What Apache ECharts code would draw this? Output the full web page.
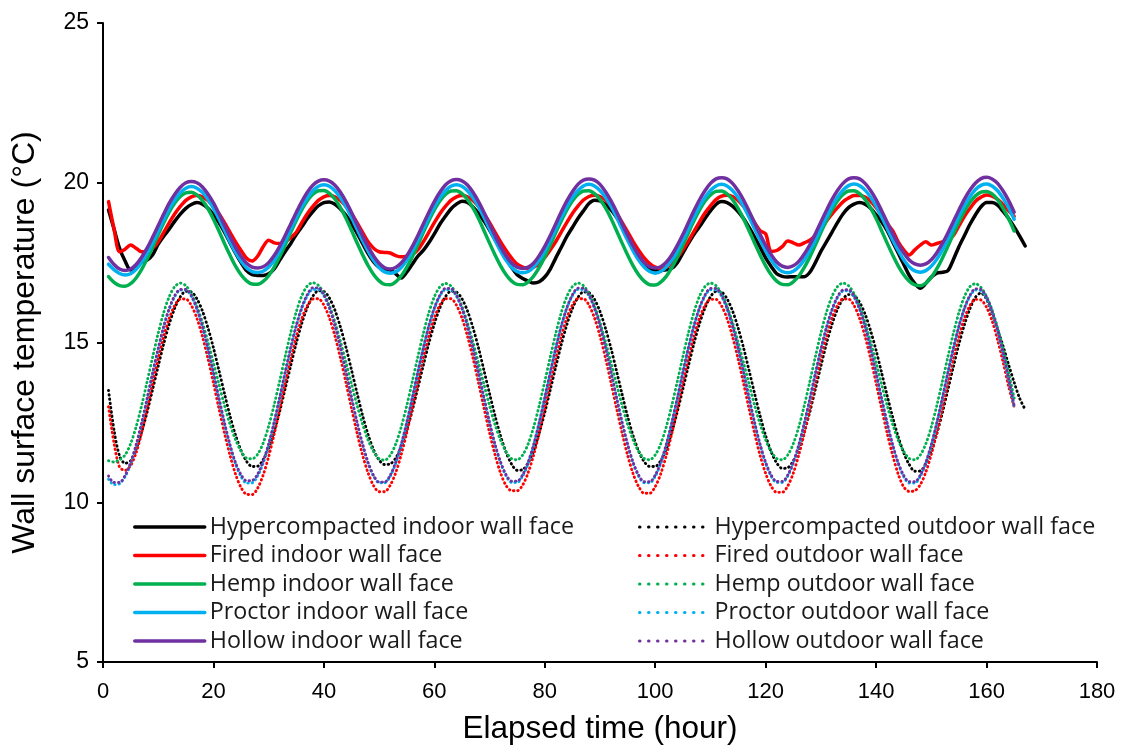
<!DOCTYPE html>
<html>
<head>
<meta charset="utf-8">
<script src="https://cdn.jsdelivr.net/npm/echarts@6/dist/echarts.min.js"></script>
<style>
  html, body { margin: 0; padding: 0; background: #ffffff; }
  #chart { width: 1128px; height: 746px; }
</style>
</head>
<body>
<div id="chart"></div>
<script>
// Sampling times (hour) shared by every series
const hours = [
  1,2,3,4,5,6,7,8,9,10,11,12,13,14,15,16,17,18,19,20,21,22,23,
  24,25,26,27,28,29,30,31,32,33,34,35,36,37,38,39,40,41,42,43,44,45,46,47,
  48,49,50,51,52,53,54,55,56,57,58,59,60,61,62,63,64,65,66,67,68,69,70,71,
  72,73,74,75,76,77,78,79,80,81,82,83,84,85,86,87,88,89,90,91,92,93,94,95,
  96,97,98,99,100,101,102,103,104,105,106,107,108,109,110,111,112,113,114,115,116,117,118,119,
  120,121,122,123,124,125,126,127,128,129,130,131,132,133,134,135,136,137,138,139,140,141,142,143,
  144,145,146,147,148,149,150,151,152,153,154,155,156,157,158,159,160,161,162,163,164,165,166,167
];

// Indoor wall face temperatures (°C), one value per hour
const hyperIndoor = [
  19.15,18.55,17.95,17.55,17.27,17.35,17.52,17.58,17.75,18.08,18.33,18.55,18.80,19.02,19.20,19.32,19.38,19.33,19.20,19.00,18.75,18.45,18.12,
  17.80,17.50,17.25,17.12,17.10,17.10,17.15,17.30,17.58,17.85,18.10,18.38,18.62,18.88,19.10,19.28,19.38,19.40,19.33,19.18,18.98,18.72,18.42,18.10,
  17.78,17.52,17.35,17.28,17.27,17.15,17.02,17.20,17.45,17.70,17.88,18.12,18.40,18.70,18.95,19.18,19.33,19.42,19.38,19.24,19.04,18.80,18.52,18.22,
  17.92,17.62,17.35,17.12,17.00,16.92,16.86,16.90,17.05,17.30,17.65,17.98,18.32,18.60,18.88,19.12,19.35,19.45,19.43,19.32,19.15,18.92,18.65,18.35,
  18.02,17.70,17.45,17.30,17.27,17.26,17.28,17.32,17.50,17.80,18.10,18.38,18.62,18.88,19.12,19.32,19.41,19.38,19.27,19.10,18.88,18.60,18.30,17.98,
  17.65,17.38,17.15,17.07,17.05,17.06,17.06,17.06,17.20,17.50,17.85,18.15,18.45,18.75,19.02,19.22,19.33,19.38,19.33,19.20,19.00,18.78,18.50,18.15,
  17.80,17.45,17.10,16.85,16.70,16.85,17.05,17.17,17.20,17.25,17.60,18.00,18.35,18.70,19.00,19.25,19.38,19.38,19.30,19.10,18.88,18.62,18.33,18.02
];
const firedIndoor = [
  19.41,18.55,17.84,17.92,18.05,17.95,17.84,17.86,17.95,18.15,18.45,18.75,19.03,19.26,19.45,19.56,19.60,19.56,19.45,19.26,19.03,18.75,18.45,
  18.15,17.88,17.64,17.55,17.70,18.00,18.20,18.12,18.10,18.15,18.28,18.45,18.75,19.03,19.26,19.45,19.56,19.60,19.56,19.45,19.26,19.03,18.75,18.45,
  18.15,17.95,17.84,17.82,17.80,17.72,17.68,17.70,17.75,17.90,18.15,18.45,18.75,19.03,19.26,19.45,19.56,19.60,19.56,19.45,19.26,19.03,18.75,18.45,
  18.15,17.88,17.64,17.45,17.36,17.32,17.36,17.47,17.66,17.90,18.16,18.46,18.76,19.04,19.27,19.46,19.57,19.61,19.57,19.46,19.27,19.04,18.76,18.46,
  18.16,17.89,17.65,17.47,17.36,17.32,17.36,17.47,17.66,17.90,18.17,18.47,18.77,19.05,19.28,19.47,19.58,19.61,19.57,19.45,19.26,19.03,18.75,18.50,
  18.40,17.85,17.88,18.00,18.18,18.12,18.05,18.12,18.20,18.35,18.55,18.80,19.02,19.22,19.40,19.52,19.60,19.60,19.55,19.42,19.22,18.98,18.72,18.50,
  18.15,17.90,17.74,17.90,18.05,18.15,18.05,18.10,18.15,18.20,18.35,18.65,18.95,19.20,19.42,19.55,19.62,19.58,19.48,19.32,19.12,18.95
];
const hempIndoor = [
  17.06,16.88,16.78,16.76,16.84,17.02,17.29,17.62,17.99,18.38,18.75,19.09,19.37,19.57,19.68,19.70,19.62,19.45,19.19,18.86,18.49,18.10,17.73,
  17.39,17.12,16.93,16.83,16.82,16.91,17.09,17.36,17.69,18.06,18.45,18.82,19.16,19.44,19.64,19.75,19.76,19.67,19.49,19.22,18.89,18.51,18.12,17.75,
  17.41,17.13,16.93,16.82,16.81,16.90,17.08,17.35,17.68,18.05,18.44,18.81,19.15,19.43,19.63,19.74,19.75,19.66,19.48,19.21,18.88,18.50,18.11,17.74,
  17.40,17.12,16.92,16.82,16.81,16.90,17.08,17.35,17.68,18.05,18.44,18.81,19.15,19.43,19.63,19.74,19.75,19.66,19.48,19.21,18.88,18.50,18.11,17.74,
  17.40,17.12,16.92,16.81,16.80,16.89,17.07,17.34,17.67,18.04,18.43,18.80,19.14,19.42,19.62,19.73,19.74,19.65,19.47,19.20,18.87,18.50,18.11,17.74,
  17.40,17.12,16.92,16.82,16.81,16.90,17.08,17.35,17.68,18.05,18.44,18.81,19.15,19.43,19.63,19.74,19.75,19.66,19.48,19.21,18.88,18.50,18.11,17.74,
  17.40,17.12,16.92,16.80,16.78,16.86,17.04,17.31,17.64,18.01,18.40,18.77,19.11,19.39,19.59,19.71,19.73,19.65,19.47,19.20,18.87,18.49
];
const proctorIndoor = [
  17.45,17.28,17.16,17.11,17.15,17.29,17.51,17.80,18.13,18.49,18.85,19.19,19.47,19.69,19.83,19.88,19.83,19.70,19.48,19.20,18.87,18.51,18.15,
  17.82,17.54,17.33,17.22,17.19,17.23,17.36,17.57,17.86,18.19,18.55,18.91,19.25,19.53,19.75,19.89,19.94,19.89,19.75,19.53,19.25,18.91,18.55,18.19,
  17.86,17.57,17.35,17.21,17.17,17.21,17.35,17.57,17.86,18.19,18.55,18.91,19.25,19.53,19.75,19.89,19.94,19.89,19.75,19.53,19.25,18.91,18.55,18.19,
  17.86,17.57,17.35,17.22,17.18,17.22,17.36,17.58,17.87,18.20,18.56,18.92,19.26,19.54,19.76,19.90,19.95,19.90,19.76,19.54,19.26,18.92,18.56,18.20,
  17.87,17.58,17.36,17.22,17.17,17.22,17.36,17.58,17.87,18.20,18.56,18.92,19.26,19.54,19.76,19.90,19.95,19.90,19.76,19.54,19.26,18.92,18.56,18.20,
  17.87,17.58,17.36,17.22,17.18,17.23,17.37,17.59,17.88,18.21,18.57,18.93,19.27,19.55,19.77,19.91,19.96,19.91,19.77,19.55,19.27,18.93,18.57,18.21,
  17.88,17.59,17.37,17.24,17.20,17.25,17.39,17.61,17.90,18.23,18.59,18.95,19.29,19.57,19.79,19.92,19.96,19.90,19.75,19.51,19.22,18.86
];
const hollowIndoor = [
  17.66,17.44,17.30,17.25,17.30,17.44,17.67,17.96,18.30,18.66,19.02,19.36,19.64,19.86,20.00,20.04,20.00,19.87,19.65,19.37,19.03,18.67,18.31,
  17.98,17.70,17.48,17.36,17.33,17.37,17.50,17.72,18.01,18.35,18.71,19.07,19.41,19.70,19.92,20.05,20.09,20.05,19.92,19.70,19.41,19.07,18.70,18.34,
  18.00,17.71,17.48,17.34,17.30,17.35,17.49,17.71,18.00,18.34,18.71,19.07,19.41,19.70,19.93,20.06,20.10,20.06,19.93,19.70,19.41,19.07,18.70,18.34,
  18.00,17.71,17.49,17.36,17.32,17.36,17.49,17.72,18.01,18.35,18.72,19.09,19.43,19.72,19.95,20.08,20.12,20.08,19.95,19.72,19.43,19.09,18.72,18.36,
  18.02,17.73,17.50,17.37,17.33,17.37,17.51,17.74,18.04,18.38,18.75,19.12,19.46,19.75,19.98,20.12,20.16,20.12,19.98,19.75,19.46,19.11,18.74,18.38,
  18.04,17.75,17.52,17.39,17.35,17.40,17.54,17.77,18.06,18.40,18.77,19.13,19.47,19.76,19.98,20.12,20.16,20.12,19.98,19.76,19.47,19.12,18.76,18.41,
  18.08,17.80,17.58,17.46,17.42,17.46,17.59,17.81,18.10,18.43,18.79,19.15,19.49,19.77,19.99,20.13,20.17,20.12,19.98,19.74,19.44,19.08
];

// Outdoor wall face temperatures (°C), one value per hour
const hyperOutdoor = [
  13.50,12.25,11.45,11.22,11.30,11.67,12.20,12.83,13.54,14.26,14.96,15.58,16.08,16.43,16.60,16.58,16.37,15.99,15.46,14.83,14.12,13.40,12.70,
  12.10,11.62,11.28,11.12,11.13,11.33,11.70,12.22,12.85,13.56,14.28,14.98,15.60,16.10,16.45,16.62,16.60,16.39,16.01,15.48,14.85,14.14,13.42,12.72,
  12.12,11.64,11.32,11.18,11.20,11.38,11.74,12.25,12.87,13.57,14.28,14.97,15.58,16.08,16.43,16.60,16.58,16.37,15.99,15.46,14.83,14.12,13.40,12.70,
  12.07,11.56,11.19,11.00,11.02,11.24,11.63,12.17,12.81,13.52,14.24,14.94,15.56,16.06,16.41,16.58,16.56,16.35,15.97,15.44,14.81,14.10,13.38,12.68,
  12.08,11.60,11.27,11.12,11.12,11.30,11.67,12.20,12.83,13.54,14.26,14.96,15.58,16.08,16.43,16.60,16.58,16.37,15.99,15.46,14.83,14.12,13.40,12.70,
  12.08,11.58,11.23,11.06,11.08,11.29,11.67,12.20,12.83,13.54,14.26,14.96,15.56,16.04,16.36,16.50,16.47,16.26,15.89,15.37,14.75,14.05,13.34,12.66,
  12.05,11.55,11.18,10.97,10.98,11.20,11.60,12.15,12.80,13.52,14.25,14.95,15.56,16.06,16.42,16.55,16.35,15.90,15.40,14.88,14.30,13.75,13.25,12.90
];
const firedOutdoor = [
  12.99,11.85,11.10,11.00,11.15,11.55,12.18,12.93,13.73,14.50,15.19,15.76,16.16,16.36,16.36,16.16,15.76,15.19,14.50,13.73,12.93,12.16,11.47,
  10.88,10.46,10.25,10.24,10.44,10.85,11.43,12.13,12.91,13.72,14.49,15.18,15.75,16.15,16.36,16.37,16.17,15.77,15.20,14.51,13.74,12.94,12.17,11.48,
  10.92,10.52,10.33,10.33,10.53,10.92,11.49,12.17,12.94,13.74,14.51,15.20,15.77,16.17,16.37,16.37,16.17,15.77,15.20,14.51,13.74,12.94,12.17,11.48,
  10.91,10.52,10.36,10.36,10.54,10.93,11.49,12.17,12.94,13.74,14.51,15.20,15.77,16.17,16.37,16.37,16.17,15.77,15.20,14.51,13.74,12.94,12.17,11.47,
  10.89,10.49,10.28,10.28,10.49,10.89,11.46,12.15,12.92,13.72,14.49,15.18,15.75,16.15,16.35,16.35,16.15,15.75,15.18,14.49,13.72,12.92,12.15,11.46,
  10.90,10.50,10.31,10.31,10.51,10.91,11.48,12.16,12.93,13.73,14.50,15.19,15.76,16.16,16.36,16.36,16.16,15.76,15.19,14.50,13.73,12.93,12.16,11.47,
  10.88,10.48,10.34,10.36,10.55,10.94,11.50,12.18,12.94,13.74,14.50,15.19,15.76,16.16,16.35,16.33,16.10,15.68,15.08,14.38,13.62,12.98
];
const hempOutdoor = [
  11.30,11.26,11.33,11.48,11.83,12.36,13.03,13.78,14.55,15.29,15.94,16.44,16.75,16.86,16.78,16.53,16.14,15.63,15.02,14.36,13.69,13.03,12.44,
  11.96,11.60,11.38,11.36,11.50,11.85,12.38,13.05,13.80,14.57,15.31,15.96,16.46,16.77,16.87,16.79,16.54,16.15,15.64,15.03,14.37,13.70,13.04,12.45,
  11.95,11.59,11.36,11.32,11.47,11.82,12.35,13.02,13.77,14.54,15.28,15.93,16.43,16.74,16.85,16.77,16.52,16.13,15.62,15.01,14.35,13.68,13.02,12.43,
  11.94,11.58,11.36,11.33,11.48,11.83,12.36,13.03,13.78,14.55,15.29,15.94,16.44,16.75,16.86,16.78,16.53,16.14,15.63,15.02,14.36,13.69,13.03,12.44,
  11.95,11.59,11.37,11.33,11.48,11.83,12.36,13.03,13.78,14.55,15.29,15.94,16.44,16.75,16.86,16.78,16.53,16.14,15.63,15.02,14.36,13.69,13.03,12.44,
  11.95,11.59,11.37,11.33,11.48,11.83,12.36,13.03,13.78,14.55,15.29,15.94,16.44,16.75,16.86,16.78,16.53,16.14,15.63,15.02,14.36,13.69,13.03,12.44,
  11.95,11.59,11.37,11.33,11.48,11.83,12.36,13.03,13.78,14.55,15.29,15.94,16.44,16.75,16.84,16.72,16.44,16.02,15.46,14.80,14.05,13.26
];
const proctorOutdoor = [
  10.72,10.55,10.58,10.80,11.20,11.76,12.45,13.22,14.02,14.79,15.48,16.04,16.44,16.64,16.64,16.44,16.04,15.48,14.79,14.02,13.22,12.45,11.76,
  11.20,10.80,10.60,10.61,10.82,11.22,11.78,12.47,13.24,14.04,14.81,15.50,16.06,16.46,16.66,16.66,16.46,16.06,15.50,14.81,14.04,13.24,12.47,11.78,
  11.21,10.81,10.61,10.61,10.81,11.21,11.77,12.46,13.23,14.03,14.80,15.49,16.05,16.45,16.65,16.65,16.45,16.05,15.49,14.80,14.03,13.23,12.46,11.77,
  11.22,10.82,10.62,10.62,10.82,11.22,11.78,12.47,13.24,14.04,14.81,15.50,16.06,16.46,16.66,16.66,16.46,16.06,15.50,14.81,14.04,13.24,12.47,11.78,
  11.21,10.81,10.61,10.61,10.81,11.21,11.77,12.46,13.23,14.03,14.80,15.49,16.05,16.45,16.65,16.65,16.45,16.05,15.49,14.80,14.03,13.23,12.46,11.77,
  11.21,10.81,10.62,10.62,10.82,11.22,11.77,12.45,13.21,14.00,14.76,15.44,16.00,16.40,16.61,16.62,16.42,16.03,15.47,14.78,14.02,13.22,12.45,11.77,
  11.20,10.80,10.60,10.60,10.81,11.21,11.77,12.46,13.23,14.03,14.80,15.49,16.05,16.45,16.64,16.62,16.38,15.94,15.34,14.62,13.82,12.98
];
const hollowOutdoor = [
  10.82,10.62,10.62,10.84,11.24,11.80,12.49,13.26,14.06,14.82,15.51,16.07,16.47,16.66,16.66,16.47,16.07,15.51,14.82,14.06,13.26,12.49,11.80,
  11.24,10.86,10.67,10.68,10.88,11.28,11.83,12.52,13.29,14.09,14.85,15.54,16.10,16.50,16.71,16.71,16.50,16.10,15.54,14.85,14.09,13.29,12.52,11.83,
  11.25,10.84,10.63,10.63,10.84,11.25,11.81,12.50,13.27,14.07,14.83,15.52,16.08,16.48,16.69,16.69,16.48,16.08,15.52,14.83,14.07,13.27,12.50,11.81,
  11.26,10.86,10.66,10.66,10.86,11.26,11.82,12.51,13.28,14.08,14.84,15.53,16.09,16.49,16.70,16.70,16.49,16.09,15.53,14.84,14.08,13.28,12.51,11.82,
  11.25,10.85,10.64,10.64,10.85,11.25,11.81,12.50,13.27,14.07,14.83,15.52,16.08,16.48,16.69,16.69,16.48,16.08,15.52,14.83,14.07,13.27,12.50,11.81,
  11.25,10.85,10.65,10.65,10.85,11.25,11.80,12.48,13.24,14.03,14.79,15.47,16.03,16.43,16.64,16.65,16.45,16.06,15.50,14.81,14.05,13.25,12.48,11.80,
  11.24,10.84,10.64,10.64,10.85,11.25,11.81,12.50,13.27,14.07,14.83,15.52,16.08,16.48,16.68,16.66,16.42,15.98,15.38,14.66,13.86,13.02
];

const xTicks = { min: 0, max: 180, step: 20 };
const yTicks = { min: 5, max: 25, step: 5 };

const indoorNames = [
  'Hypercompacted indoor wall face', 'Fired indoor wall face', 'Hemp indoor wall face',
  'Proctor indoor wall face', 'Hollow indoor wall face'
];
const outdoorNames = [
  'Hypercompacted outdoor wall face', 'Fired outdoor wall face', 'Hemp outdoor wall face',
  'Proctor outdoor wall face', 'Hollow outdoor wall face'
];
const indoorValues = [hyperIndoor, firedIndoor, hempIndoor, proctorIndoor, hollowIndoor];
const outdoorValues = [hyperOutdoor, firedOutdoor, hempOutdoor, proctorOutdoor, hollowOutdoor];
const palette = ['#000000', '#ff0000', '#00b050', '#00b0f0', '#7030a0'];

function pairs(values) {
  return values.map((v, i) => [hours[i], v]);
}

const series = [];
indoorNames.forEach((name, k) => {
  series.push({
    name, type: 'line', data: pairs(indoorValues[k]),
    symbol: 'none', smooth: 0.3, silent: true,
    color: palette[k],
    lineStyle: { width: 3.5, color: palette[k], cap: 'round', join: 'round' }
  });
});
outdoorNames.forEach((name, k) => {
  series.push({
    name, type: 'line', data: pairs(outdoorValues[k]),
    symbol: 'none', smooth: 0.3, silent: true,
    color: palette[k],
    lineStyle: { width: 2.9, color: palette[k], type: [0.5, 3.8], cap: 'round' }
  });
});

const axisFont = 'Liberation Sans, Arial, sans-serif';
const legendText = { fontFamily: 'Open Sans, sans-serif', fontSize: 23.3, color: '#1a1a1a', lineHeight: 24 };

const chart = echarts.init(document.getElementById('chart'), null, { renderer: 'canvas' });
chart.setOption({
  animation: false,
  backgroundColor: '#ffffff',
  grid: { left: 103, right: 31, top: 23, bottom: 84, containLabel: false, outerBoundsMode: 'none' },
  xAxis: {
    type: 'value', min: xTicks.min, max: xTicks.max, interval: xTicks.step,
    name: 'Elapsed time (hour)', nameLocation: 'middle', nameGap: 51,
    nameTextStyle: { fontFamily: axisFont, fontSize: 31.5, color: '#000' },
    axisLine: { onZero: false, lineStyle: { color: '#000', width: 2 } },
    axisTick: { inside: false, length: 6, lineStyle: { color: '#000', width: 2 } },
    axisLabel: { fontFamily: axisFont, fontSize: 22, color: '#000', margin: 19 },
    splitLine: { show: false }
  },
  yAxis: {
    type: 'value', min: yTicks.min, max: yTicks.max, interval: yTicks.step,
    name: 'Wall surface temperature (°C)', nameLocation: 'middle', nameGap: 62, nameRotate: 90,
    nameTextStyle: { fontFamily: axisFont, fontSize: 32, color: '#000' },
    axisLine: { show: true, onZero: false, lineStyle: { color: '#000', width: 2 } },
    axisTick: { show: true, inside: false, length: 6, lineStyle: { color: '#000', width: 2 } },
    axisLabel: { fontFamily: axisFont, fontSize: 23, color: '#000', margin: 14 },
    splitLine: { show: false }
  },
  legend: [
    {
      data: indoorNames, orient: 'vertical', left: 133, top: 515, padding: 0,
      itemWidth: 70, itemHeight: 14, itemGap: 4.5, selectedMode: false,
      textStyle: legendText,
      itemStyle: { opacity: 0 },
      lineStyle: { width: 3.5 }
    },
    {
      data: outdoorNames, orient: 'vertical', left: 638, top: 515, padding: 0,
      itemWidth: 70, itemHeight: 14, itemGap: 4.5, selectedMode: false,
      textStyle: legendText,
      itemStyle: { opacity: 0 },
      lineStyle: { width: 3, type: [0.5, 8.5], cap: 'round' }
    }
  ],
  series
});
</script>
</body>
</html>
